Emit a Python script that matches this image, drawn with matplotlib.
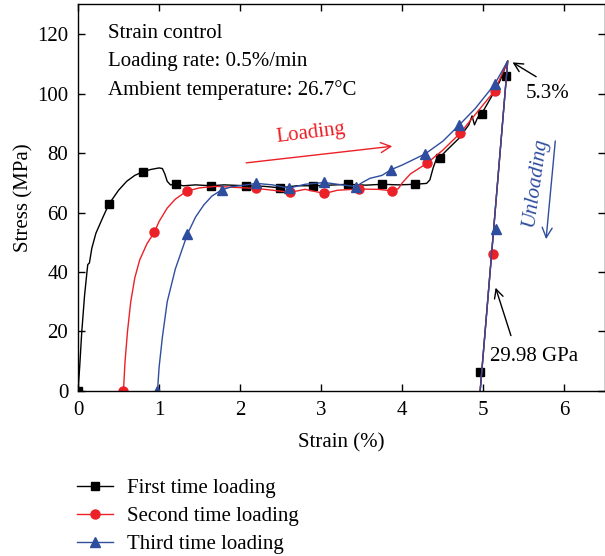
import matplotlib
matplotlib.use("Agg")
import matplotlib.pyplot as plt

plt.rcParams['font.family'] = ['Liberation Serif', 'DejaVu Serif']
plt.rcParams['mathtext.fontset'] = 'stix'

# stress-strain curves, strain in %, stress in MPa
first_x = [0.0, 0.02, 0.045, 0.08, 0.11, 0.12, 0.14, 0.17, 0.22, 0.3, 0.38, 0.5, 0.6, 0.7, 0.8,
           0.9, 1.0, 1.04, 1.07, 1.1, 1.14, 1.21, 1.3, 1.45, 1.64, 1.8, 2.07, 2.3, 2.49, 2.7,
           2.9, 3.1, 3.33, 3.55, 3.75, 3.95, 4.16, 4.3, 4.34, 4.38, 4.42, 4.46, 4.55, 4.7,
           4.82, 4.86, 4.89, 4.93, 4.98, 5.1, 5.2, 5.3, 4.96]
first_y = [0.0, 8, 19.5, 32, 40, 42.5, 43, 48, 53, 58, 62.8, 67.5, 70.5, 72.5, 73.7,
           74.5, 75, 74.8, 73, 70.5, 69.3, 69.5, 69.0, 69.3, 69.0, 69.3, 69.0, 68.8, 68.3, 69.0,
           69.0, 69.2, 69.5, 69.2, 69.5, 69.3, 69.5, 69.8, 71, 75, 78, 78.5, 81, 85,
           89.5, 92.5, 89.5, 92, 93.3, 99, 104, 111, 0.0]
first_mx = [0.0, 0.38, 0.8, 1.21, 1.64, 2.07, 2.49, 2.9, 3.33, 3.75, 4.16, 4.46, 4.98, 5.28, 4.955]
first_my = [0.0, 62.8, 73.7, 69.5, 69.0, 69.0, 68.3, 69.0, 69.5, 69.5, 69.5, 78.5, 93.3, 106, 6.2]

second_x = [0.56, 0.58, 0.61, 0.65, 0.7, 0.76, 0.85, 0.94, 1.0, 1.1, 1.2, 1.34, 1.5, 1.7, 1.9,
            2.05, 2.2, 2.4, 2.62, 2.8, 3.04, 3.2, 3.46, 3.7, 3.87, 3.95, 4.0, 4.1, 4.3, 4.5,
            4.71, 4.9, 5.14, 5.3, 4.96]
second_y = [0.0, 10, 20, 30, 38, 44, 49.5, 53.3, 57, 61.5, 64.5, 67.2, 68.3, 68.8, 68.5,
            68.3, 68.1, 67.5, 66.8, 67.8, 66.4, 67.5, 67.9, 67.8, 67.3, 68, 70, 73, 76.5, 81,
            86.6, 93, 101, 111, 0.0]
second_mx = [0.56, 0.94, 1.34, 2.2, 2.62, 3.04, 3.46, 3.87, 4.3, 4.71, 5.14, 5.12]
second_my = [0.0, 53.3, 67.2, 68.1, 66.8, 66.4, 67.9, 67.3, 76.5, 86.6, 101, 46]

third_x = [0.98, 1.0, 1.04, 1.1, 1.2, 1.35, 1.45, 1.55, 1.65, 1.77, 1.9, 2.05, 2.2, 2.4, 2.6,
           2.8, 3.04, 3.2, 3.43, 3.5, 3.6, 3.75, 3.86, 4.0, 4.28, 4.5, 4.7, 4.9, 5.14, 5.3, 4.96]
third_y = [0.0, 8, 18, 30, 41, 52.8, 58.5, 62.5, 65.5, 67.6, 68.7, 69.2, 69.8, 69.3, 68.2,
           69.5, 70.1, 69.5, 68.7, 70, 71.5, 72.5, 74.4, 76, 79.7, 84, 89.4, 95, 103.2, 111, 0.0]
third_mx = [0.98, 1.35, 1.77, 2.2, 2.6, 3.04, 3.43, 3.86, 4.28, 4.7, 5.14, 5.15]
third_my = [0.0, 52.8, 67.6, 69.8, 68.2, 70.1, 68.7, 74.4, 79.7, 89.4, 103.2, 54.3]

RED = '#ec2027'
BLUE = '#2f4d9e'
FS = 15

fig = plt.figure(figsize=(6.05, 5.56), dpi=100)
ax = fig.add_axes([0.129, 0.297, 0.871, 0.695])

ax.plot(first_x, first_y, color='black', lw=1.0)
ax.plot(first_mx, first_my, 's', color='black', ms=6)
ax.plot(second_x, second_y, color=RED, lw=1.0)
ax.plot(second_mx, second_my, 'o', color=RED, ms=6.5)
ax.plot(third_x, third_y, color=BLUE, lw=1.0)
ax.plot(third_mx, third_my, '^', color=BLUE, ms=7.5)

ax.set_xlim(0, 6.5)
ax.set_ylim(0, 130)
ax.set_xticks([0, 1, 2, 3, 4, 5, 6])
ax.set_yticks([0, 20, 40, 60, 80, 100, 120])
ax.tick_params(direction='in', top=True, right=True, length=5, width=1, labelsize=FS)
ax.tick_params(axis='x', pad=7.5)
ax.tick_params(axis='y', pad=7)
for s in ax.spines.values():
    s.set_linewidth(1.0)
ax.set_xlabel('Strain (%)', fontsize=FS, labelpad=9)
ax.set_ylabel('Stress (MPa)', fontsize=FS, labelpad=3)

# notes in the upper left
ax.text(0.37, 120.3, 'Strain control', fontsize=FS, va='center')
ax.text(0.37, 110.9, 'Loading rate: 0.5%/min', fontsize=FS, va='center')
ax.text(0.37, 101.2, 'Ambient temperature: 26.7°C', fontsize=FS, va='center')

# loading / unloading arrows
ax.annotate('', xy=(3.91, 82.4), xytext=(2.04, 76.6),
            arrowprops=dict(arrowstyle='->', color=RED, lw=1.0, mutation_scale=18))
ax.text(2.87, 86.5, 'Loading', color=RED, fontsize=FS, rotation=7, ha='center', va='center')
ax.annotate('', xy=(5.77, 50.1), xytext=(5.89, 85),
            arrowprops=dict(arrowstyle='->', color=BLUE, lw=1.0, mutation_scale=18))
ax.text(5.63, 70, 'Unloading', color=BLUE, fontsize=FS, style='italic', rotation=82,
        ha='center', va='center')

ax.annotate('', xy=(5.33, 111), xytext=(5.68, 105.2),
            arrowprops=dict(arrowstyle='->', color='black', lw=1.0, mutation_scale=16))
ax.text(5.79, 100, '5.3%', fontsize=FS, ha='center', va='center')
ax.annotate('', xy=(5.14, 35.6), xytext=(5.35, 17.7),
            arrowprops=dict(arrowstyle='->', color='black', lw=1.0, mutation_scale=16))
ax.text(5.62, 11.5, '29.98 GPa', fontsize=FS, ha='center', va='center')

# legend below the axes
h1, = ax.plot([], [], '-s', color='black', lw=1.0, ms=6)
h2, = ax.plot([], [], '-o', color=RED, lw=1.0, ms=6.5)
h3, = ax.plot([], [], '-^', color=BLUE, lw=1.0, ms=7.5)
fig.legend([h1, h2, h3], ['First time loading', 'Second time loading', 'Third time loading'],
           loc='upper left', bbox_to_anchor=(0.127, 0.139), frameon=False, fontsize=FS,
           handlelength=1.75, handletextpad=0.65, labelspacing=0.4, borderpad=0, borderaxespad=0)

fig.savefig('out.png', dpi=100)
